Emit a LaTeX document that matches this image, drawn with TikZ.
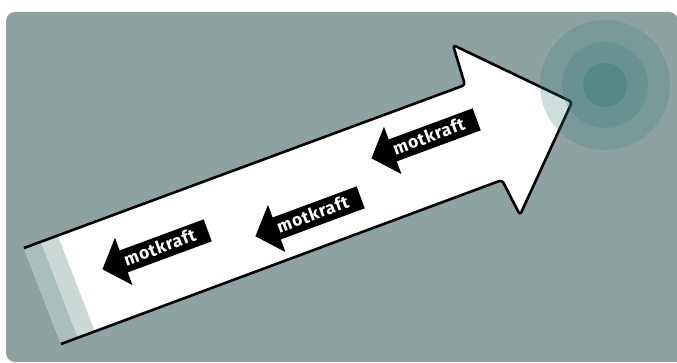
\documentclass[tikz,border=0pt]{standalone}
\usepackage{fontspec}
\usepackage{xcolor}
\usepackage{tikz}
\usetikzlibrary{arrows.meta,positioning,calc,shapes.arrows}
\newfontfamily\forcefont[LetterSpace=4]{Fira Sans}
\definecolor{Panelc}{RGB}{142,162,161}
\definecolor{StripeA}{RGB}{170,190,188}
\definecolor{StripeB}{RGB}{203,217,214}
\definecolor{Targetc}{RGB}{55,128,122}
\tikzset{
  panel/.style={fill=Panelc,rounded corners=9pt},
  bigarrow/.style={draw=black,line width=2.6pt,line join=round,rounded corners=3pt},
  force/.style={single arrow,fill=black,text=white,shape border rotate=180,
                rotate=20.3,single arrow head extend=13.5pt,single arrow tip angle=96,
                inner xsep=13pt,inner ysep=3.5pt,text height=13.5pt,text depth=2.5pt,
                font=\forcefont\bfseries\fontsize{17.5}{17.5}\selectfont},
  ring/.style={fill=Targetc,opacity=#1},
}
\begin{document}
\begin{tikzpicture}[x=1pt,y=-1pt]
  \useasboundingbox (0,0) rectangle (677,363);
  % panel
  \fill[panel] (690,362) -- (6,362) -- (6,12) -- (678,12) -- (678,380) -- (690,380) -- cycle;

  % big arrow
  \coordinate (A) at (24,248);
  \coordinate (B) at (465,85);
  \coordinate (C) at (453,45);
  \coordinate (T) at (572,102);
  \coordinate (D) at (520,215);
  \coordinate (E) at (502,180);
  \coordinate (F) at (61,344);
  \fill[white,rounded corners=3pt] (A) -- (B) -- (C) -- (T) -- (D) -- (E) -- (F) -- cycle;
  \fill[StripeA] (A) -- (40.9,241.8) -- (77.9,337.8) -- (F) -- cycle;
  \fill[StripeB] (40.9,241.8) -- (57.8,235.5) -- (94.8,331.5) -- (77.9,337.8) -- cycle;
  \draw[bigarrow] (A) -- (B) -- (C) -- (T) -- (D) -- (E) -- (F);

  % counter forces
  \foreach \x/\y [count=\i] in {160/248,313/215,429/137}
    \node[force] (f\i) at (\x,\y) {motkraft};

  % target
  \coordinate (tg) at (605,85);
  \foreach \r/\o in {65/0.25,43/0.25,22/0.4}
    \fill[ring=\o] (tg) circle (\r pt);
\end{tikzpicture}
\end{document}
